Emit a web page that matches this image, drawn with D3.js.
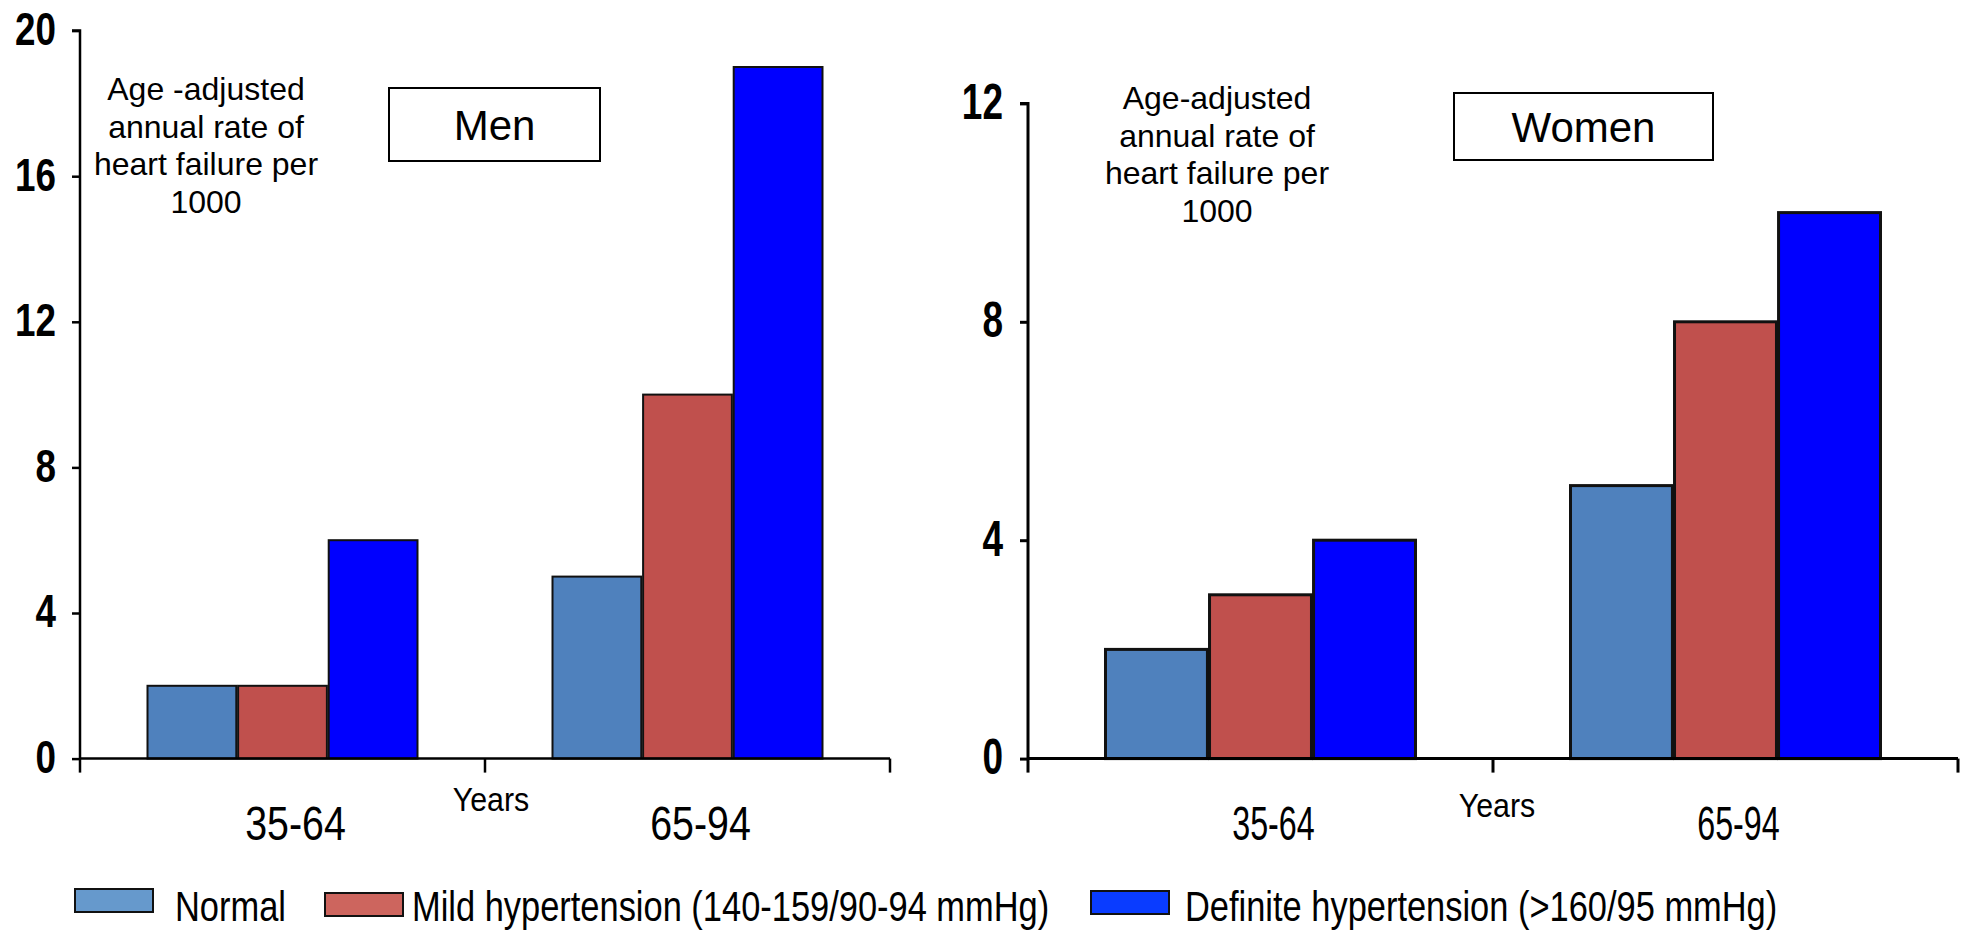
<!DOCTYPE html>
<html>
<head>
<meta charset="utf-8">
<script src="https://cdn.jsdelivr.net/npm/d3@7"></script>
<style>
  html, body { margin: 0; padding: 0; background: #ffffff; }
  svg { display: block; }
</style>
</head>
<body>
<svg id="chart" width="1966" height="930"></svg>
<script>
// Age groups on the x axis
const ageGroups = ["35-64", "65-94"];

// Blood pressure categories (series)
const seriesNames = [
  "Normal",
  "Mild hypertension (140-159/90-94 mmHg)",
  "Definite hypertension (>160/95 mmHg)"
];

// Age-adjusted annual rate of heart failure per 1000
const menNormal = [2, 5];
const menMild = [2, 10];
const menDefinite = [6, 19];

const womenNormal = [2, 5];
const womenMild = [3, 8];
const womenDefinite = [4, 10];

// Y axis ticks
const menTicks = [0, 4, 8, 12, 16, 20];
const womenTicks = [0, 4, 8, 12];

// Text
const panelTitles = ["Men", "Women"];
const menNote = ["Age -adjusted", "annual rate of", "heart failure per", "1000"];
const womenNote = ["Age-adjusted", "annual rate of", "heart failure per", "1000"];
const xTitle = "Years";

// Colours
const barColors = ["#4f81bd", "#c0504d", "#0000ff"];
const swatchColors = ["#6699cc", "#cd655e", "#0a3cff"];

// Condensed lettering is drawn by squeezing the regular face horizontally
const SANS = "'Liberation Sans', Arial, Helvetica, sans-serif";
const NARROW = 0.82;

const svg = d3.select("#chart");

const panels = [
  {
    title: panelTitles[0], note: menNote, ticks: menTicks, max: 20,
    values: [menNormal, menMild, menDefinite],
    left: 80, right: 890, top: 30.6, bottom: 758.6,
    axisWidth: 2.5, barStroke: 2, tickFont: 46, tickPad: 16, tickScale: 0.8,
    noteX: 206, noteY: 100,
    box: { x: 389, y: 88, w: 211, h: 73 },
    yearsX: 491, yearsY: 811,
    catScale: NARROW
  },
  {
    title: panelTitles[1], note: womenNote, ticks: womenTicks, max: 12,
    values: [womenNormal, womenMild, womenDefinite],
    left: 1028, right: 1958, top: 103.4, bottom: 758.6,
    axisWidth: 3, barStroke: 3, tickFont: 50, tickPad: 17, tickScale: 0.74,
    noteX: 1217, noteY: 109,
    box: { x: 1454, y: 93, w: 259, h: 67 },
    yearsX: 1497, yearsY: 817,
    catScale: NARROW * 0.82
  }
];

panels.forEach(p => {
  const g = svg.append("g");

  const x = d3.scaleBand().domain(ageGroups).range([p.left, p.right]);
  const bw = x.bandwidth();
  const xs = d3.scaleBand().domain(seriesNames)
    .range([bw / 6, bw * 5 / 6]).paddingInner(0.02);
  const y = d3.scaleLinear().domain([0, p.max]).range([p.bottom, p.top]);

  // Bars
  const rows = [];
  ageGroups.forEach((a, i) => {
    seriesNames.forEach((s, j) => {
      rows.push({ age: a, series: s, idx: j, value: p.values[j][i] });
    });
  });

  g.append("g").selectAll("rect")
    .data(rows)
    .join("rect")
    .attr("x", d => x(d.age) + xs(d.series))
    .attr("y", d => y(d.value))
    .attr("width", xs.bandwidth())
    .attr("height", d => y(0) - y(d.value))
    .attr("fill", d => barColors[d.idx])
    .attr("stroke", "#111")
    .attr("stroke-width", p.barStroke);

  // Y axis
  const yAxis = d3.axisLeft(y)
    .tickValues(p.ticks)
    .tickFormat(d3.format("d"))
    .tickSize(8)
    .tickPadding(p.tickPad);
  const ya = g.append("g")
    .attr("transform", `translate(${p.left},0)`)
    .call(yAxis);
  ya.select(".domain")
    .attr("d", `M-8,${p.top}H0V${p.bottom}`)
    .attr("stroke", "#000")
    .attr("stroke-width", p.axisWidth);
  ya.selectAll(".tick line").attr("stroke", "#000").attr("stroke-width", p.axisWidth);
  ya.selectAll(".tick text")
    .attr("x", null)
    .attr("transform", `translate(${-8 - p.tickPad},0) scale(${p.tickScale},1)`)
    .attr("fill", "#000")
    .attr("font-family", SANS)
    .attr("font-weight", "bold")
    .attr("font-size", p.tickFont)
    .attr("dy", "0.3em");

  // X axis: baseline with ticks at the category boundaries
  const bounds = ageGroups.map(a => x(a)).concat([x.range()[1]]);
  const xa = g.append("g");
  xa.append("line")
    .attr("x1", p.left).attr("x2", p.right)
    .attr("y1", y(0)).attr("y2", y(0))
    .attr("stroke", "#000").attr("stroke-width", p.axisWidth);
  xa.selectAll("line.tick")
    .data(bounds)
    .join("line")
    .attr("class", "tick")
    .attr("x1", d => d).attr("x2", d => d)
    .attr("y1", y(0)).attr("y2", y(0) + 14)
    .attr("stroke", "#000").attr("stroke-width", p.axisWidth);

  // Category labels
  xa.selectAll("text.cat")
    .data(ageGroups)
    .join("text")
    .attr("class", "cat")
    .attr("transform", d => `translate(${x(d) + bw / 2 + 13},840) scale(${p.catScale},1)`)
    .attr("text-anchor", "middle")
    .attr("font-family", SANS)
    .attr("font-size", 48)
    .attr("fill", "#000")
    .text(d => d);

  // "Years"
  g.append("text")
    .attr("transform", `translate(${p.yearsX},${p.yearsY}) scale(0.92,1)`)
    .attr("text-anchor", "middle")
    .attr("font-family", SANS)
    .attr("font-size", 33)
    .attr("fill", "#000")
    .text(xTitle);

  // Measure note
  g.append("text")
    .attr("text-anchor", "middle")
    .attr("font-family", SANS)
    .attr("font-size", 32)
    .attr("fill", "#000")
    .selectAll("tspan")
    .data(p.note)
    .join("tspan")
    .attr("x", p.noteX)
    .attr("y", (d, i) => p.noteY + i * 37.7)
    .text(d => d);

  // Panel title box
  g.append("rect")
    .attr("x", p.box.x).attr("y", p.box.y)
    .attr("width", p.box.w).attr("height", p.box.h)
    .attr("fill", "#fff")
    .attr("stroke", "#000")
    .attr("stroke-width", 2);
  g.append("text")
    .attr("x", p.box.x + p.box.w / 2)
    .attr("y", p.box.y + p.box.h / 2 + 15)
    .attr("text-anchor", "middle")
    .attr("font-family", SANS)
    .attr("font-size", 42)
    .attr("fill", "#000")
    .text(p.title);
});

// Legend
const legendItems = [
  { sx: 75, sy: 889, tx: 175 },
  { sx: 325, sy: 893, tx: 412 },
  { sx: 1091, sy: 891, tx: 1185 }
];
const lg = svg.append("g");
lg.selectAll("rect")
  .data(seriesNames)
  .join("rect")
  .attr("x", (d, i) => legendItems[i].sx)
  .attr("y", (d, i) => legendItems[i].sy)
  .attr("width", 78).attr("height", 23)
  .attr("fill", (d, i) => swatchColors[i])
  .attr("stroke", "#111")
  .attr("stroke-width", 2);
lg.selectAll("text")
  .data(seriesNames)
  .join("text")
  .attr("transform", (d, i) => `translate(${legendItems[i].tx},921) scale(${NARROW},1)`)
  .attr("font-family", SANS)
  .attr("font-size", 42)
  .attr("fill", "#000")
  .text(d => d);
</script>
</body>
</html>
